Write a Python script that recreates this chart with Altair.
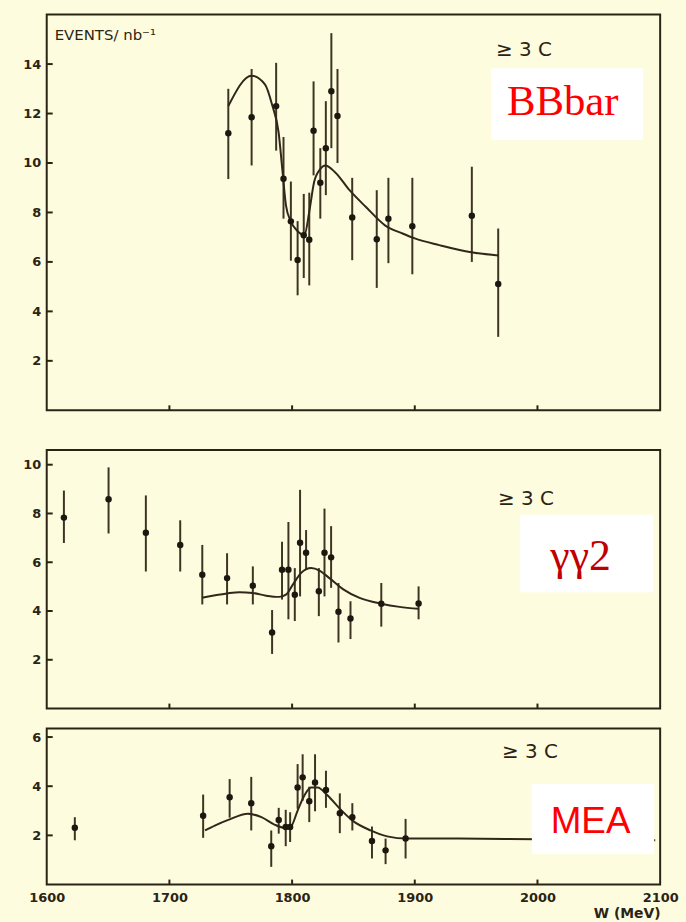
import altair as alt
import pandas as pd

# ---------------- data: W (MeV), events / nb^-1 ----------------
# BBbar channel (upper panel)
bb_w = [1748, 1767, 1787, 1793, 1799, 1804.5, 1809.5, 1814, 1817.5, 1823,
        1827.5, 1832, 1837, 1849, 1869, 1878.5, 1898, 1946.5, 1968]
bb_val = [11.2, 11.85, 12.3, 9.36, 7.64, 6.08, 7.08, 6.9, 11.3, 9.2,
          10.6, 12.9, 11.9, 7.8, 6.92, 7.75, 7.44, 7.87, 5.11]
bb_lo = [9.35, 9.9, 10.5, 7.75, 6.05, 4.65, 5.35, 5.05, 9.5, 7.75,
         8.7, 10.6, 10.0, 6.07, 4.95, 5.95, 5.5, 6.0, 2.97]
bb_hi = [13.0, 13.8, 14.05, 11.05, 9.25, 7.65, 8.75, 8.8, 13.3, 10.6,
         12.5, 15.25, 13.8, 9.4, 8.9, 9.4, 9.4, 9.85, 7.35]
bb_fit_w = [1748, 1767, 1778, 1784, 1789, 1792, 1795, 1799, 1804, 1810, 1814,
            1818, 1823, 1827, 1835, 1847, 1860, 1876, 1890, 1900, 1920, 1946, 1968]
bb_fit = [12.3, 13.53, 13.17, 12.3, 11.24, 9.76, 8.29, 7.63, 7.27, 7.08, 8.03,
          9.24, 9.76, 9.9, 9.63, 8.89, 8.23, 7.47, 7.15, 6.95, 6.68, 6.39, 6.26]

# gamma-gamma channel (middle panel)
gg_w = [1614, 1650.4, 1680.8, 1708.8, 1726.8, 1747, 1768, 1783.7, 1791.8, 1797,
        1802.2, 1806.5, 1811.4, 1821.8, 1826.4, 1831.8, 1837.8, 1847.6, 1872.7, 1903.1]
gg_val = [7.83, 8.58, 7.21, 6.71, 5.49, 5.35, 5.04, 3.12, 5.69, 5.69,
          4.67, 6.8, 6.39, 4.81, 6.39, 6.2, 3.97, 3.69, 4.3, 4.31]
gg_lo = [6.79, 7.18, 5.62, 5.62, 4.27, 4.27, 4.27, 2.24, 4.47, 3.66,
         3.59, 4.6, 5.69, 3.79, 4.6, 4.95, 2.71, 2.85, 3.36, 3.66]
gg_hi = [8.94, 9.89, 8.74, 7.72, 6.71, 6.37, 5.83, 4.04, 6.84, 7.65,
         5.76, 8.97, 7.32, 5.76, 8.2, 7.48, 5.15, 4.4, 5.15, 5.01]
gg_fit_w = [1726.5, 1747, 1757, 1768, 1778.8, 1789.6, 1795, 1800.6, 1807.3,
            1815.5, 1822.3, 1830.4, 1841.4, 1855, 1872.7, 1887.6, 1903.1]
gg_fit = [4.54, 4.72, 4.77, 4.74, 4.63, 4.58, 4.67, 5.08, 5.56,
          5.76, 5.66, 5.35, 4.9, 4.54, 4.3, 4.17, 4.09]

# MEA channel (lower panel)
mea_w = [1622.9, 1727.5, 1749.1, 1766.7, 1783, 1789.1, 1794.8, 1798.4, 1804.5,
         1808.6, 1814, 1818.7, 1827.6, 1838.9, 1849.1, 1865.1, 1876.2, 1892.5]
mea_val = [2.31, 2.8, 3.55, 3.31, 1.56, 2.63, 2.34, 2.34, 3.95,
           4.36, 3.39, 4.15, 3.85, 2.9, 2.74, 1.77, 1.39, 1.87]
mea_lo = [1.8, 1.9, 2.72, 2.2, 0.72, 2.07, 1.56, 1.73, 3.08,
          3.41, 2.54, 2.98, 3.12, 2.09, 2.2, 1.06, 0.83, 1.06]
mea_hi = [2.74, 3.66, 4.29, 4.38, 2.2, 3.12, 3.04, 2.94, 4.9,
          5.3, 3.98, 5.3, 4.63, 3.71, 3.31, 2.36, 1.87, 2.67]
mea_fit_w = [1729, 1737, 1748, 1764, 1775, 1785.6, 1793.8, 1799, 1804.5, 1810,
             1815.4, 1820.8, 1829, 1839, 1849, 1864, 1877.5, 1893.8, 1931.6, 2000, 2096]
mea_fit = [2.2, 2.4, 2.63, 2.88, 2.74, 2.44, 2.31, 2.36, 3.01, 3.62,
           3.95, 3.95, 3.62, 3.08, 2.61, 2.2, 1.96, 1.87, 1.87, 1.84, 1.8]

x_ticks = [1700, 1800, 1900, 2000]
x_labels = [1600, 1700, 1800, 1900, 2000, 2100]

# ---------------- styling ----------------
PAPER = "#fefcdf"
INK = "#2b2414"
BAR = "#3d3421"
FONT = "DejaVu Sans"
W = 617

x_scale = alt.Scale(domain=[1600, 2100], nice=False, zero=False)


def panel(w, val, lo, hi, fit_w, fit, ymax, yticks, height, tag, tag_font,
          tag_size, tag_color, box, tag_xy, cond_xy, x_axis=None, extra=None):
    y_scale = alt.Scale(domain=[0, ymax], nice=False, zero=False)
    y_axis = alt.Axis(values=yticks, ticks=False, domain=False, grid=False,
                      labelFont=FONT, labelFontWeight="bold", labelFontSize=13,
                      labelColor=INK, labelPadding=6, minExtent=24, maxExtent=24,
                      title=None)

    def X(field):
        return alt.X(field, type="quantitative", scale=x_scale, axis=x_axis)

    def Y(field):
        return alt.Y(field, type="quantitative", scale=y_scale, axis=y_axis)

    pts = pd.DataFrame({"w": w, "val": val, "lo": lo, "hi": hi})
    curve = pd.DataFrame({"w": fit_w, "fit": fit})

    bars = alt.Chart(pts).mark_rule(color=BAR, strokeWidth=2).encode(
        x=X("w"), y=Y("lo"), y2="hi")
    line = alt.Chart(curve).mark_line(
        color="#30271a", strokeWidth=2, interpolate="monotone").encode(
        x=X("w"), y=Y("fit"))
    dots = alt.Chart(pts).mark_circle(size=42, color="#1c1810", opacity=1).encode(
        x=X("w"), y=Y("val"))

    # inward tick marks along the bottom and left edges of the frame
    xt = alt.Chart(pd.DataFrame({"t": x_ticks})).mark_rule(
        color=INK, strokeWidth=2).encode(
        x=X("t"), y=alt.value(height), y2=alt.value(height - 5))
    yt = alt.Chart(pd.DataFrame({"t": yticks})).mark_rule(
        color=INK, strokeWidth=2).encode(
        y=Y("t"), x=alt.value(0), x2=alt.value(6))

    one = pd.DataFrame({"k": [0]})
    white = alt.Chart(one).mark_rect(color="white").encode(
        x=alt.value(box[0]), x2=alt.value(box[1]),
        y=alt.value(box[2]), y2=alt.value(box[3]))
    label = alt.Chart(one).mark_text(
        text=tag, font=tag_font, fontSize=tag_size, color=tag_color,
        align="center", baseline="alphabetic").encode(
        x=alt.value(tag_xy[0]), y=alt.value(tag_xy[1]))
    cond = alt.Chart(one).mark_text(
        text="≥ 3 C", font=FONT, fontSize=20, color=INK,
        align="left", baseline="alphabetic").encode(
        x=alt.value(cond_xy[0]), y=alt.value(cond_xy[1]))

    layers = [bars, line, dots, xt, yt, white, label, cond]
    if extra is not None:
        layers.append(extra)
    return alt.layer(*layers).properties(width=W, height=height)


one_row = pd.DataFrame({"k": [0]})
units = alt.Chart(one_row).mark_text(
    text="EVENTS/ nb⁻¹", font=FONT, fontSize=15, color=INK,
    align="left", baseline="alphabetic").encode(
    x=alt.value(8), y=alt.value(26))

top = panel(bb_w, bb_val, bb_lo, bb_hi, bb_fit_w, bb_fit,
            16, [2, 4, 6, 8, 10, 12, 14], 398,
            "BBbar", "Liberation Serif", 43, "#ff0000",
            (447, 600, 54, 126), (519, 101), (452, 42), extra=units)

mid = panel(gg_w, gg_val, gg_lo, gg_hi, gg_fit_w, gg_fit,
            10.6, [2, 4, 6, 8, 10], 260,
            "γγ2", "Liberation Serif", 44, "#c00000",
            (476, 610, 65, 143), (537, 121), (454, 55))

bottom_axis = alt.Axis(values=x_labels, format="d", ticks=False, domain=False,
                       grid=False, labelFlush=False, labelFont=FONT,
                       labelFontWeight="bold", labelFontSize=13, labelColor=INK,
                       labelPadding=7, title="W (MeV)", titleFont=FONT,
                       titleFontSize=14, titleFontWeight="bold", titleColor=INK,
                       titleAnchor="end", titlePadding=2)

bot = panel(mea_w, mea_val, mea_lo, mea_hi, mea_fit_w, mea_fit,
            6.35, [2, 4, 6], 157,
            "MEA", "Liberation Sans", 37, "#ff0000",
            (488, 611, 56, 126), (547, 105), (458, 30), x_axis=bottom_axis)

chart = alt.vconcat(
    top,
    alt.vconcat(mid, bot, spacing=17),
    spacing=37,
).properties(
    padding={"left": 21, "top": 11, "right": 6, "bottom": 0},
).configure(
    background=PAPER,
).configure_view(
    stroke=INK, strokeWidth=2,
)

chart.save("out.html", embed_options={"renderer": "svg", "actions": False})
